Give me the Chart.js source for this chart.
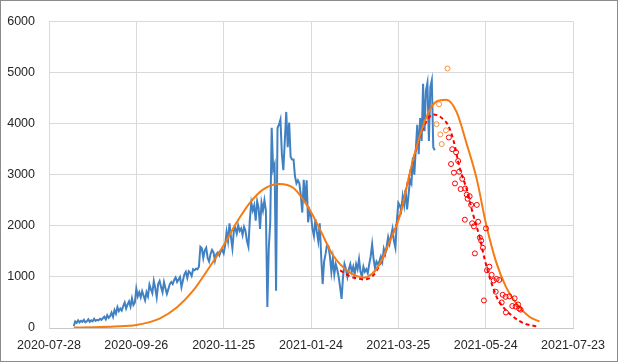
<!DOCTYPE html>
<html>
<head>
<meta charset="utf-8">
<script src="https://cdn.jsdelivr.net/npm/chart.js@4.4.1/dist/chart.umd.min.js"></script>
<style>
  html, body { margin: 0; padding: 0; background: #fff; }
  canvas { display: block; }
</style>
</head>
<body>
<canvas id="grafico" width="618" height="362"></canvas>
<script>
// etiquetas del eje x, una cada 60 días desde 2020-07-28 (día 0)
const etiquetasFechas = ['2020-07-28', '2020-09-26', '2020-11-25', '2021-01-24', '2021-03-25', '2021-05-24', '2021-07-23'];

// casos diarios (línea azul), empiezan el día 17
const diaInicioCasos = 17;
const casosDiarios = [
    40, 130, 100, 150, 110, 140, 120, 160, 110, 130,
    170, 120, 150, 130, 180, 140, 160, 150, 180, 160,
    190, 220, 170, 250, 200, 230, 300, 220, 350, 280,
    410, 330, 380, 340, 430, 500, 380, 460, 520, 420,
    580, 450, 500, 770, 620, 700, 600, 720, 630, 540,
    700, 620, 850, 760, 680, 920, 780, 600, 860, 920,
    800, 700, 900, 780, 670, 760, 860, 900, 860, 940,
    990, 900, 950, 1000, 800, 930, 1050, 1100, 980, 1110,
    1080, 1020, 1150, 1130, 1160, 1150, 1200, 1590, 1560, 1370,
    1520, 1570, 1370, 1300, 1450, 1530, 1480, 1320, 1450, 1480,
    1420, 1500, 1530, 1460, 1620, 1880, 1700, 2050, 1780, 1560,
    1900, 1960, 1850, 2010, 1900, 1950, 1820, 1980, 1900, 1700,
    1590, 2130, 2450, 2300, 2400, 2100, 2480, 2350, 1940, 2450,
    2300, 2500, 2300, 410, 1560, 2070, 3920, 3100, 3200, 730,
    3920, 3980, 4080, 3400, 3090, 3660, 4230, 3540, 4020, 3350,
    3300, 3300, 2970, 2830, 2890, 2830, 2600, 2260, 2900, 2450,
    2890, 2070, 2300, 2200, 1940, 1800, 2130, 1880, 1700, 2050,
    1400, 860, 1300, 1450, 1630, 1600, 1400, 1100, 1360, 1050,
    1250, 1150, 1000, 800, 570, 1000, 1250, 1150, 1000, 1150,
    1250, 1100, 1200, 1050, 1250, 1150, 1350, 1100, 1000, 1200,
    1100, 1150, 1070, 1250, 1400, 1640, 1350, 1170, 1300, 1250,
    1310, 1400, 1300, 1550, 1450, 1600, 1780, 1650, 1800, 1940,
    1700, 1570, 2100, 2450, 2400, 2300, 2580, 2400, 2700, 2320,
    2600, 2900, 2830, 3340, 3000, 3500, 3980, 3400, 4110, 3660,
    4780, 3850, 4650, 4800, 3660, 4720, 4850, 3540, 3480
];

// modelo de dos olas (curva naranja)
const diasModelo = [17, 30, 45, 60, 76, 88, 99, 110, 120, 129, 138, 147, 158, 168, 179, 186, 195, 207, 217, 227, 234, 241, 250, 259, 266, 273, 280, 287, 294, 300, 307, 314, 321, 330, 337];
const valoresModelo = [10, 16, 30, 60, 185, 405, 730, 1180, 1620, 2070, 2450, 2710, 2820, 2740, 2320, 1940, 1430, 1080, 990, 1240, 1690, 2200, 3280, 4110, 4430, 4470, 4230, 3600, 2900, 2070, 1310, 800, 480, 220, 127];

// ajuste de la segunda ola (curva roja discontinua)
const diasAjuste = [200, 207, 212, 217, 222, 227, 234, 241, 246, 250, 255, 260, 264, 268, 271, 274, 278, 282, 287, 291, 296, 299, 302, 305, 308, 312, 319, 326, 335];
const valoresAjuste = [1130, 1010, 970, 955, 1010, 1220, 1690, 2220, 2800, 3260, 3750, 4080, 4180, 4150, 4080, 3980, 3660, 3150, 2710, 2260, 1760, 1380, 1060, 800, 580, 410, 220, 95, 30];

// puntos naranjas
const diasNaranja = [266.2, 268, 268.8, 269.8, 272.7, 273.8];
const valoresNaranja = [3990, 4380, 3790, 3600, 3870, 5080];

// puntos rojos
const diasRojo = [274.7, 277, 279.7, 276.2, 281.1, 278.2, 281.8, 278.9, 283.9, 282.8, 285.9, 287, 289, 287.6, 290, 293.9, 285.7, 290.7, 291.9, 294.8, 296, 296.9, 300.2, 292.6, 298.1, 300.9, 302.6, 304.1, 305.5, 307.5, 309.3, 306.9, 298.8, 311.7, 313.7, 316.3, 319.9, 311, 318.3, 320.6, 322.3, 323, 324, 313.9];
const valoresRojo = [3730, 3500, 3440, 3210, 3270, 3040, 3060, 2830, 2920, 2720, 2730, 2610, 2580, 2530, 2410, 2410, 2120, 2050, 1990, 2080, 1770, 1710, 1950, 1460, 1570, 1130, 1200, 1040, 930, 960, 940, 710, 540, 650, 610, 620, 580, 500, 430, 420, 460, 380, 360, 305];

function aPuntos(dias, valores) {
    return dias.map((d, i) => ({ x: d, y: valores[i] }));
}

const fuente = { family: '"Liberation Sans", Arial, sans-serif', size: 12.5 };
const colorGrid = '#d9d9d9';

// fondo blanco y marco gris del gráfico
const marco = {
    id: 'marco',
    beforeDraw(chart) {
        const ctx = chart.ctx;
        ctx.save();
        ctx.fillStyle = '#ffffff';
        ctx.fillRect(0, 0, chart.width, chart.height);
        ctx.restore();
    },
    afterDraw(chart) {
        const ctx = chart.ctx;
        ctx.save();
        ctx.strokeStyle = '#8c8c8c';
        ctx.lineWidth = 1;
        ctx.strokeRect(0.5, 0.5, chart.width - 1, chart.height - 1);
        ctx.restore();
    }
};

new Chart(document.getElementById('grafico'), {
    type: 'line',
    data: {
        datasets: [
            {
                type: 'scatter',
                data: aPuntos(diasNaranja, valoresNaranja),
                borderColor: '#f5923e',
                backgroundColor: 'rgba(0,0,0,0)',
                borderWidth: 1,
                pointRadius: 2.5,
                order: 0
            },
            {
                type: 'scatter',
                data: aPuntos(diasRojo, valoresRojo),
                borderColor: '#ff0000',
                backgroundColor: 'rgba(0,0,0,0)',
                borderWidth: 1,
                pointRadius: 2.5,
                order: 1
            },
            {
                data: aPuntos(diasModelo, valoresModelo),
                borderColor: '#f57b12',
                borderWidth: 2,
                pointRadius: 0,
                cubicInterpolationMode: 'monotone',
                order: 2
            },
            {
                data: aPuntos(diasAjuste, valoresAjuste),
                borderColor: '#ff0000',
                borderWidth: 2,
                borderDash: [4, 3],
                pointRadius: 0,
                cubicInterpolationMode: 'monotone',
                order: 3
            },
            {
                data: casosDiarios.map((v, i) => ({ x: diaInicioCasos + i, y: v })),
                borderColor: '#4181c2',
                borderWidth: 2,
                pointRadius: 0,
                tension: 0,
                order: 4
            }
        ]
    },
    options: {
        responsive: false,
        animation: false,
        events: [],
        layout: { padding: { top: 14, right: 45, left: 0, bottom: 0 } },
        plugins: {
            legend: { display: false },
            tooltip: { enabled: false }
        },
        scales: {
            x: {
                type: 'linear',
                min: 0,
                max: 360,
                afterFit: (s) => { s.height = 34; },
                ticks: {
                    stepSize: 60,
                    autoSkip: false,
                    maxRotation: 0,
                    padding: 10,
                    color: '#262626',
                    font: fuente,
                    callback: (v) => etiquetasFechas[Math.round(v / 60)]
                },
                grid: { color: colorGrid, drawTicks: false },
                border: { color: '#c8c8c8' }
            },
            y: {
                min: 0,
                max: 6000,
                afterFit: (s) => { s.width = 49; },
                ticks: {
                    stepSize: 1000,
                    padding: 14,
                    color: '#262626',
                    font: fuente,
                    callback: (v) => String(v)
                },
                grid: { color: colorGrid, drawTicks: false },
                border: { color: colorGrid }
            }
        }
    },
    plugins: [marco]
});
</script>
</body>
</html>
